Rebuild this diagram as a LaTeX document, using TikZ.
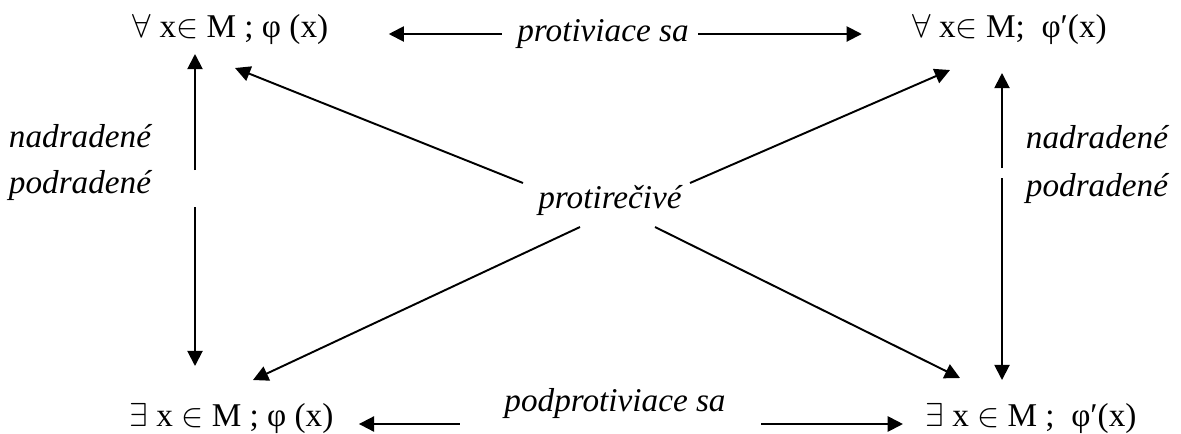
\documentclass[tikz,border=0pt]{standalone}
\usepackage{fontspec}
\setmainfont{Liberation Serif}
\usetikzlibrary{arrows.meta,calc}

\begin{document}
\begin{tikzpicture}[
    x=0.0127cm, y=-0.0127cm,
    stmt/.style={inner sep=0pt, anchor=base, font=\fontsize{12}{14}\selectfont},
    rel/.style={stmt, font=\fontsize{12}{14}\selectfont\itshape},
    arrow/.style={-{Triangle[length=5.5pt, width=5.5pt]}, line width=0.7pt},
]
\useasboundingbox (0,0) rectangle (1181,433);

% The four statements at the corners
\node[stmt] (allphi) at (230.5,37) {$\forall$ x$\in$ M ; φ (x)};
\node[stmt] (allneg) at (1009.5,37) {$\forall$ x$\in$ M;\ \ φ′(x)};
\node[stmt] (exphi) at (231.5,426) {$\exists$ x $\in$ M ; φ (x)};
\node[stmt] (exneg) at (1031,426) {$\exists$ x $\in$ M ;\ \ φ′(x)};

% Relation labels
\node[rel] (contra) at (603,41) {protiviace sa};
\node[rel] (subcontra) at (615,411) {podprotiviace sa};
\node[rel] (contradict) at (610,208) {protirečivé};
\node[rel] (superL) at (80,147) {nadradené};
\node[rel] (subL) at (80,193) {podradené};
\node[rel] (superR) at (1097,148) {nadradené};
\node[rel] (subR) at (1097,196) {podradené};

% Horizontal arrows
\draw[arrow] ($(contra.base west)+(-15,-7)$) -- ($(allphi.base east)+(60,-3)$);
\draw[arrow] ($(contra.base east)+(9,-7)$) -- ($(allneg.base west)+(-50,-3)$);
\draw[arrow] ($(subcontra.base west)+(-44,13)$) -- ($(exphi.base east)+(25,-2)$);
\draw[arrow] ($(subcontra.base east)+(35,13)$) -- ($(exneg.base west)+(-22,-2)$);

% Vertical arrows, broken at the labels
\coordinate (splitL) at (195,188);
\draw[arrow] ($(splitL)+(0,-18)$) -- ($(allphi.base -| splitL)+(0,17)$);
\draw[arrow] ($(splitL)+(0,19)$) -- ($(exphi.base -| splitL)+(0,-60)$);
\coordinate (splitR) at (1002,173);
\draw[arrow] ($(splitR)+(0,-5)$) -- ($(allneg.base -| splitR)+(0,36)$);
\draw[arrow] ($(splitR)+(0,5)$) -- ($(exneg.base -| splitR)+(0,-46)$);

% Diagonals from the middle label
\draw[arrow] ($(contradict.base)+(-87,-25)$) -- ($(allphi.base)+(4.5,31)$);
\draw[arrow] ($(contradict.base)+(80,-25)$) -- ($(allneg.base)+(-59.5,33)$);
\draw[arrow] ($(contradict.base)+(-30,19)$) -- ($(exphi.base)+(21.5,-46)$);
\draw[arrow] ($(contradict.base)+(45,19)$) -- ($(exneg.base)+(-71,-48)$);

\end{tikzpicture}
\end{document}
